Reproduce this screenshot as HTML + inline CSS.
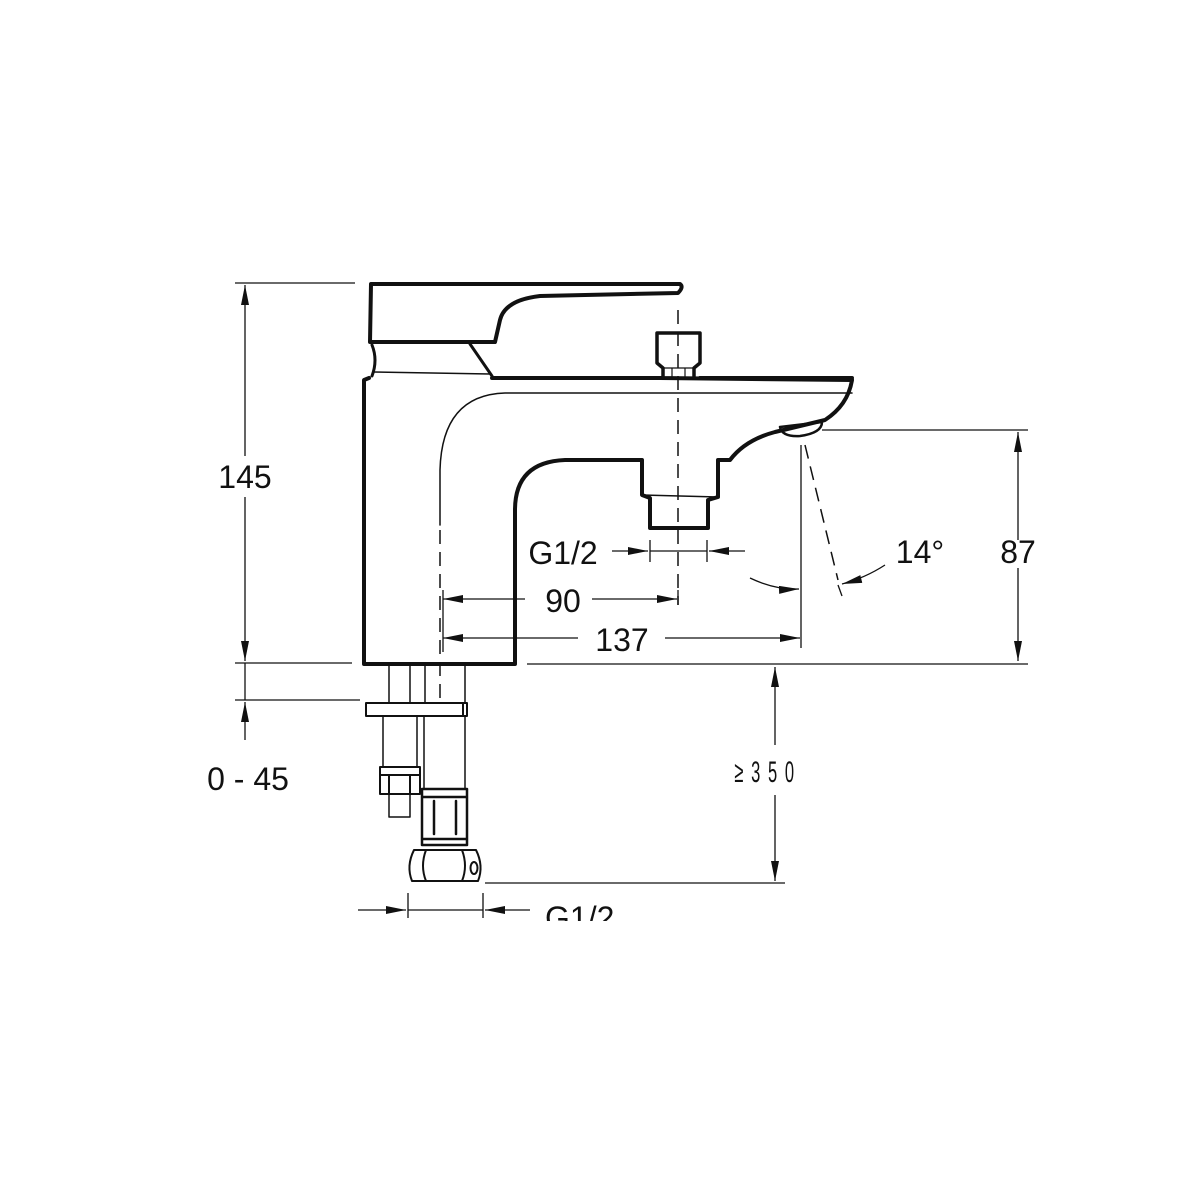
<!DOCTYPE html>
<html><head><meta charset="utf-8"><style>
html,body{margin:0;padding:0;background:#fff;}
svg{display:block;}
text{font-family:"Liberation Sans",Arial,sans-serif;fill:#111;}
</style></head><body>
<svg width="1200" height="1200" viewBox="0 0 1200 1200" xmlns="http://www.w3.org/2000/svg">
<defs>
<marker id="b" viewBox="0 0 20 8" refX="20" refY="4" markerWidth="20" markerHeight="8" markerUnits="userSpaceOnUse" orient="auto-start-reverse">
<path d="M0,0 L20,4 L0,8 z" fill="#111"/></marker>
</defs>
<rect width="1200" height="1200" fill="#fff"/>
<g fill="none" stroke="#111" stroke-linejoin="round" stroke-linecap="round">
<path stroke-width="4" d="M370,342 L371,284 L680,284 Q684,287 678,293 L540,296 Q505,300 500,320 L495,342 Z"/>
<path stroke-width="3" d="M372,345 Q378,360 372,376 M470,344 L492,376"/>
<path stroke-width="1.5" d="M374,372 L490,374"/>
<path stroke-width="4" d="M369,378 L364,380 L364,664 L515,664 L515,510 Q515,462 565,460 L642,460 L642,495 L650,498 L650,528 L708,528 L708,500 L718,497 L718,460 L730,460 Q745,440 775,432 L825,420 Q848,405 852,380 L660,378 M492,378 L662,378 M700,378 L852,378"/>
<path stroke-width="1.5" d="M642,495 L718,497"/>
<path stroke-width="2.5" d="M780,427 L822,422 Q822,433 800,436 Q782,437 780,427 Z"/>
<path stroke-width="1.5" d="M440,525 L440,470 Q442,395 505,393 L852,393"/>
<path stroke-width="3.5" d="M657,333 L700,333 L700,363 L694,368 L694,378 M657,333 L657,363 L663,368 L663,378"/>
<path stroke-width="1.2" d="M672,368 L672,378 M685,368 L685,378 M663,368 L694,368"/>
<path stroke-width="1.5" d="M389,664 L389,702 M410,664 L410,702 M425,664 L425,702 M465,664 L465,702"/>
<path stroke-width="2" d="M366,703 L467,703 L467,716 L366,716 Z M463,703 L463,716"/>
<path stroke-width="1.5" d="M383,716 L383,766 M417,716 L417,766 M424,716 L424,788 M465,716 L465,788"/>
<path stroke-width="2" d="M380,767 L420,767 L420,794 L380,794 Z M389,776 L389,794 M410,776 L410,794 M380,775 L420,775"/>
<path stroke-width="1.5" d="M389,794 L389,817 L410,817 L410,794"/>
<path stroke-width="2.5" d="M422,789 L467,789 L467,845 L422,845 Z M422,797 L467,797 M434,801 L434,834 M456,801 L456,834 M422,839 L467,839"/>
<path stroke-width="2" d="M414,850 L476,850 Q484,866 478,881 L412,881 Q406,866 414,850 Z M426,850 Q420,866 426,881 M462,850 Q468,866 462,881"/>
<ellipse cx="474" cy="868" rx="3.5" ry="6" stroke-width="2"/>
</g>
<g stroke="#111" stroke-width="1.5" fill="none" stroke-dasharray="14,8">
<path d="M678,310 L678,605"/>
<path d="M440,530 L440,705"/>
<path d="M805,445 L838,580"/>
</g>
<g stroke="#111" stroke-width="1.3" fill="none">
<path d="M235,283 L355,283 M235,663 L352,663 M235,700 L360,700 M527,664 L1028,664 M822,430 L1028,430 M485,883 L785,883"/>
<path d="M245,456 L245,285" marker-end="url(#b)"/>
<path d="M245,497 L245,661" marker-end="url(#b)"/>
<path d="M245,740 L245,702" marker-end="url(#b)"/>
<path d="M245,663 L245,700"/>
<path d="M1018,540 L1018,432" marker-end="url(#b)"/>
<path d="M1018,568 L1018,661" marker-end="url(#b)"/>
<path d="M775,745 L775,667" marker-end="url(#b)"/>
<path d="M775,795 L775,881" marker-end="url(#b)"/>
<path d="M801,445 L801,648"/>
<path d="M443,590 L443,652 M678,590 L678,605"/>
<path d="M525,599 L443,599" marker-end="url(#b)"/>
<path d="M592,599 L677,599" marker-end="url(#b)"/>
<path d="M578,638 L443,638" marker-end="url(#b)"/>
<path d="M665,638 L800,638" marker-end="url(#b)"/>
<path d="M650,540 L650,562 M707,540 L707,562 M650,551 L707,551"/>
<path d="M612,551 L648,551" marker-end="url(#b)"/>
<path d="M745,551 L709,551" marker-end="url(#b)"/>
<path d="M750,578 Q775,590 799,589" marker-end="url(#b)"/>
<path d="M885,565 Q865,578 842,584" marker-end="url(#b)"/>
<path d="M838,585 L842,596"/>
<path d="M408,893 L408,918 M483,893 L483,918 M408,910 L483,910"/>
<path d="M358,910 L406,910" marker-end="url(#b)"/>
<path d="M530,910 L485,910" marker-end="url(#b)"/>
</g>
<text x="245" y="488" font-size="32" text-anchor="middle">145</text>
<text x="248" y="790" font-size="32" text-anchor="middle">0 - 45</text>
<text x="1018" y="563" font-size="32" text-anchor="middle">87</text>
<text x="920" y="563" font-size="32" text-anchor="middle">14°</text>
<text x="563" y="564" font-size="32" text-anchor="middle">G1/2</text>
<text x="563" y="612" font-size="32" text-anchor="middle">90</text>
<text x="622" y="651" font-size="32" text-anchor="middle">137</text>
<g transform="translate(768,782) scale(0.55,1)"><text x="0" y="0" font-size="30" text-anchor="middle" letter-spacing="14">≥350</text></g>
<text x="545" y="929" font-size="32">G1/2</text>
<rect x="530" y="921" width="120" height="20" fill="#fff"/>
</svg>
</body></html>
